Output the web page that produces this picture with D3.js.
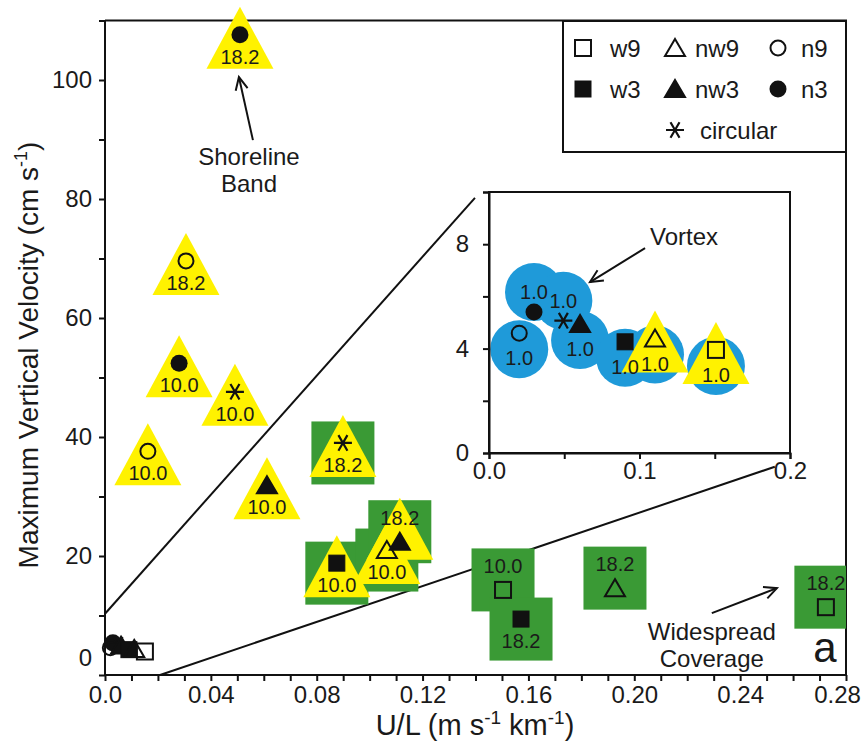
<!DOCTYPE html>
<html>
<head>
<meta charset="utf-8">
<script src="https://cdn.jsdelivr.net/npm/d3@7"></script>
<style>
  body { margin: 0; background: #fff; }
  svg { display: block; font-family: "Liberation Sans", Arial, sans-serif; }
  text { fill: #1a1a1a; }
</style>
</head>
<body>
<svg id="chart" width="868" height="742"></svg>
<script>
// cases with a background cue (tri = yellow triangle, sq = green square)
var mainPoints = [
  { type: "n3", x: 0.0510, y: 107.6, label: "18.2", bg: ["tri"], pos: "below" },
  { type: "n9", x: 0.0306, y: 69.6, label: "18.2", bg: ["tri"], pos: "below" },
  { type: "n3", x: 0.0280, y: 52.4, label: "10.0", bg: ["tri"], pos: "below" },
  { type: "circular", x: 0.0491, y: 47.6, label: "10.0", bg: ["tri"], pos: "below" },
  { type: "n9", x: 0.0162, y: 37.6, label: "10.0", bg: ["tri"], pos: "below" },
  { type: "nw3", x: 0.0612, y: 31.9, label: "10.0", bg: ["tri"], pos: "below" },
  { type: "circular", x: 0.0899, y: 39.0, label: "18.2", bg: ["sq", "tri"], pos: "below" },
  { type: "w3", x: 0.0876, y: 18.8, label: "10.0", bg: ["sq", "tri"], pos: "below" },
  { type: "nw9", x: 0.1065, y: 21.0, label: "10.0", bg: ["sq", "tri"], pos: "below" },
  { type: "nw3", x: 0.1114, y: 22.4, label: "18.2", bg: ["sq", "tri"], pos: "above" },
  { type: "w9", x: 0.1504, y: 14.3, label: "10.0", bg: ["sq"], pos: "above" },
  { type: "w3", x: 0.1572, y: 9.4, label: "18.2", bg: ["sq"], pos: "below" },
  { type: "nw9", x: 0.1927, y: 14.6, label: "18.2", bg: ["sq"], pos: "above" },
  { type: "w9", x: 0.2724, y: 11.4, label: "18.2", bg: ["sq"], pos: "above" }
];

// 1.0 cases, as read on the inset axes (inset x axis is 10x the main one)
var insetPoints = [
  { type: "n3", x: 0.0299, y: 5.40, label: "1.0", bg: ["circ"], pos: "above" },
  { type: "n9", x: 0.0201, y: 4.59, label: "1.0", bg: ["circ"], pos: "below" },
  { type: "circular", x: 0.0494, y: 5.07, label: "1.0", bg: ["circ"], pos: "above" },
  { type: "nw3", x: 0.0605, y: 4.94, label: "1.0", bg: ["circ"], pos: "below" },
  { type: "w3", x: 0.0904, y: 4.26, label: "1.0", bg: ["circ"], pos: "below" },
  { type: "nw9", x: 0.1103, y: 4.39, label: "1.0", bg: ["circ", "tri"], pos: "below" },
  { type: "w9", x: 0.1508, y: 3.95, label: "1.0", bg: ["circ", "tri"], pos: "below" }
];
var insetScale = 10;

var legendTypes = ["w9", "nw9", "n9", "w3", "nw3", "n3", "circular"];
var legendNames = ["w9", "nw9", "n9", "w3", "nw3", "n3", "circular"];

var xTicks = d3.range(0, 0.2801, 0.01);
var xLabels = [0, 0.04, 0.08, 0.12, 0.16, 0.20, 0.24, 0.28];
var yTicks = d3.range(0, 111, 10);
var yLabels = [0, 20, 40, 60, 80, 100];
var insetXTicks = [0, 0.05, 0.1, 0.15, 0.2];
var insetXLabels = [0, 0.1, 0.2];
var insetYTicks = [0, 2, 4, 6, 8, 10];
var insetYLabels = [0, 4, 8];

// zoom guide lines, main axes units
var guideLines = [
  [[0, 10.3], [0.1398, 80.2]],
  [[0.0208, 0], [0.2531, 35.0]]
];

var notes = [
  { lines: ["Shoreline", "Band"], x: 0.0544, y: 85.7, arrow: [[0.0559, 89.9], [0.0506, 100.5]] },
  { lines: ["Widespread", "Coverage"], x: 0.2293, y: 5.9, arrow: [[0.2293, 10.4], [0.2539, 14.6]] }
];
var insetNote = { text: "Vortex", x: 0.107, y: 7.97, arrow: [[0.1037, 7.85], [0.0671, 6.55]] };

var YELLOW = "#fff200", GREEN = "#3a9a35", BLUE = "#1f9ad9", INK = "#111";

var svg = d3.select("#chart");

var x = d3.scaleLinear().domain([0, 0.28]).range([105, 846]);
var y = d3.scaleLinear().domain([0, 110]).range([675, 20.5]);
var xi = d3.scaleLinear().domain([0, 0.2]).range([489, 790]);
var yi = d3.scaleLinear().domain([0, 10]).range([453, 192]);

function fmt1(v) { return v === 0 ? "0.0" : d3.format(".2f")(v); }

function drawMarker(g, type, cx, cy) {
  var filled = /3$/.test(type);
  var fill = filled ? INK : "none";
  if (type === "w9" || type === "w3") {
    g.append("rect").attr("x", cx - 8).attr("y", cy - 8).attr("width", 16).attr("height", 16)
      .attr("fill", fill).attr("stroke", INK).attr("stroke-width", filled ? 1 : 2);
  } else if (type === "nw9" || type === "nw3") {
    var p = d3.path();
    p.moveTo(cx, cy - 9); p.lineTo(cx + 10, cy + 8); p.lineTo(cx - 10, cy + 8); p.closePath();
    g.append("path").attr("d", p.toString()).attr("fill", fill)
      .attr("stroke", INK).attr("stroke-width", 2).attr("stroke-linejoin", "miter");
  } else if (type === "n9" || type === "n3") {
    g.append("circle").attr("cx", cx).attr("cy", cy).attr("r", filled ? 8.5 : 7.5)
      .attr("fill", fill).attr("stroke", INK).attr("stroke-width", filled ? 0 : 2);
  } else {
    var a = d3.path();
    [0, 60, 120].forEach(function(deg) {
      var r = deg * Math.PI / 180, l = 9;
      a.moveTo(cx - l * Math.cos(r), cy - l * Math.sin(r));
      a.lineTo(cx + l * Math.cos(r), cy + l * Math.sin(r));
    });
    g.append("path").attr("d", a.toString()).attr("stroke", INK).attr("stroke-width", 2.2).attr("fill", "none");
  }
}

function drawArrow(g, p0, p1) {
  g.append("line").attr("x1", p0[0]).attr("y1", p0[1]).attr("x2", p1[0]).attr("y2", p1[1])
    .attr("stroke", INK).attr("stroke-width", 2);
  var ang = Math.atan2(p1[1] - p0[1], p1[0] - p0[0]), L = 14, spread = 0.45;
  var h = d3.path();
  h.moveTo(p1[0] - L * Math.cos(ang - spread), p1[1] - L * Math.sin(ang - spread));
  h.lineTo(p1[0], p1[1]);
  h.lineTo(p1[0] - L * Math.cos(ang + spread), p1[1] - L * Math.sin(ang + spread));
  g.append("path").attr("d", h.toString()).attr("fill", "none").attr("stroke", INK).attr("stroke-width", 2);
}

// draws one layer of cued cases: backgrounds, labels, markers
function drawCases(g, data, sx, sy, off) {
  data.forEach(function(d) {
    if (d.bg.indexOf("sq") < 0) return;
    var cx = sx(d.x), cy = sy(d.y) + (d.pos === "below" ? 10 : -10);
    g.append("rect").attr("x", cx - 31.5).attr("y", cy - 31.5).attr("width", 63).attr("height", 63)
      .attr("fill", GREEN).attr("clip-path", "url(#clipMain)");
  });
  data.forEach(function(d) {
    if (d.bg.indexOf("circ") < 0) return;
    g.append("circle").attr("cx", sx(d.x)).attr("cy", sy(d.y) + (d.pos === "below" ? 16 : -20))
      .attr("r", 29).attr("fill", BLUE);
  });
  data.forEach(function(d) {
    if (d.bg.indexOf("tri") < 0) return;
    var cx = sx(d.x), cy = sy(d.y) + (d.pos === "below" ? 3 : -13);
    var p = d3.path();
    p.moveTo(cx, cy - 31); p.lineTo(cx + 33.5, cy + 31); p.lineTo(cx - 33.5, cy + 31); p.closePath();
    g.append("path").attr("d", p.toString()).attr("fill", YELLOW);
  });
  g.selectAll("text.case").data(data).join("text").attr("class", "case")
    .attr("x", function(d) { return sx(d.x); })
    .attr("y", function(d) { return sy(d.y) + (d.pos === "below" ? off[0] : off[1]); })
    .attr("dy", "0.36em").attr("text-anchor", "middle").attr("font-size", 20)
    .text(function(d) { return d.label; });
  data.forEach(function(d) { drawMarker(g, d.type, sx(d.x), sy(d.y)); });
}

// text with "-1" superscripts, parts alternate normal / superscript
function supText(t, parts, big, small) {
  parts.forEach(function(s, i) {
    var sup = i % 2 === 1;
    t.append("tspan").attr("font-size", sup ? small : big)
      .attr("dy", i === 0 ? 0 : (sup ? -11 : 11)).text(s);
  });
}

svg.append("defs").append("clipPath").attr("id", "clipMain").append("rect")
  .attr("x", 105).attr("y", 0).attr("width", 741).attr("height", 676);
svg.select("defs").append("clipPath").attr("id", "clipInset").append("rect")
  .attr("x", 489).attr("y", 192).attr("width", 301).attr("height", 261);

// main axes
var xAxis = d3.axisBottom(x).tickValues(xTicks).tickSize(6).tickPadding(5)
  .tickFormat(function(v) {
    return xLabels.some(function(l) { return Math.abs(l - v) < 1e-6; }) ? fmt1(v) : "";
  });
var yAxis = d3.axisLeft(y).tickValues(yTicks).tickSize(6).tickPadding(7)
  .tickFormat(function(v) { return yLabels.indexOf(v) >= 0 ? v : ""; });

var gx = svg.append("g").attr("transform", "translate(0,675)").call(xAxis);
var gy = svg.append("g").attr("transform", "translate(105,0)").call(yAxis);
[gx, gy].forEach(function(g) {
  g.selectAll("path, line").attr("stroke", INK).attr("stroke-width", 2);
  g.selectAll("text").attr("font-size", 24).attr("fill", "#1a1a1a")
    .attr("font-family", "'Liberation Sans', Arial, sans-serif");
});
gx.select(".domain").attr("d", "M105,0H846");
gx.selectAll(".tick").filter(function(v) { return Math.abs(v - 0.28) < 1e-6; })
  .select("text").attr("x", -9);
gy.select(".domain").attr("d", "M0,676V20.5");
gy.selectAll(".tick").filter(function(v) { return v === 0; }).select("text").attr("y", -17);

// frame top / right
svg.append("path").attr("d", "M105," + y(110) + "H" + x(0.28) + "V676")
  .attr("fill", "none").attr("stroke", INK).attr("stroke-width", 2);

// axis titles
var xt = svg.append("text").attr("x", 475).attr("y", 735).attr("text-anchor", "middle");
supText(xt, ["U/L (m s", "-1", " km", "-1", ")"], 29, 19);

var yt = svg.append("text").attr("transform", "translate(38,355) rotate(-90)")
  .attr("text-anchor", "middle");
supText(yt, ["Maximum Vertical Velocity (cm s", "-1", ")"], 28, 18);

// guide lines to inset
svg.selectAll("line.guide").data(guideLines).join("line").attr("class", "guide")
  .attr("x1", function(d) { return x(d[0][0]); }).attr("y1", function(d) { return y(d[0][1]); })
  .attr("x2", function(d) { return x(d[1][0]); }).attr("y2", function(d) { return y(d[1][1]); })
  .attr("stroke", INK).attr("stroke-width", 2);

// main cases
var gMain = svg.append("g");
drawCases(gMain, mainPoints, x, y, [22, -24]);

// 1.0 cases at the origin of main axes
var gOrigin = svg.append("g");
insetPoints.forEach(function(d) { drawMarker(gOrigin, d.type, x(d.x / insetScale), y(d.y)); });

// notes
notes.forEach(function(n) {
  var t = svg.append("text").attr("text-anchor", "middle").attr("font-size", 24);
  n.lines.forEach(function(s, i) {
    t.append("tspan").attr("x", x(n.x)).attr("y", y(n.y) + i * 27).text(s);
  });
  drawArrow(svg, [x(n.arrow[0][0]), y(n.arrow[0][1])], [x(n.arrow[1][0]), y(n.arrow[1][1])]);
});
svg.append("text").attr("x", x(0.272)).attr("y", y(2.2)).attr("text-anchor", "middle")
  .attr("font-size", 42).text("a");

// inset
var gIn = svg.append("g");
gIn.append("rect").attr("x", 489).attr("y", 192).attr("width", 301).attr("height", 261).attr("fill", "#fff");
var gInData = gIn.append("g").attr("clip-path", "url(#clipInset)");
drawCases(gInData, insetPoints, xi, yi, [25, -20]);
gIn.append("rect").attr("x", 489).attr("y", 192).attr("width", 301).attr("height", 261)
  .attr("fill", "none").attr("stroke", INK).attr("stroke-width", 2);

var gix = gIn.append("g").attr("transform", "translate(0,453)")
  .call(d3.axisBottom(xi).tickValues(insetXTicks).tickSize(6).tickPadding(3)
    .tickFormat(function(v) {
      return insetXLabels.some(function(l) { return Math.abs(l - v) < 1e-6; }) ? d3.format(".1f")(v) : "";
    }));
var giy = gIn.append("g").attr("transform", "translate(489,0)")
  .call(d3.axisLeft(yi).tickValues(insetYTicks).tickSize(6).tickPadding(14)
    .tickFormat(function(v) { return insetYLabels.indexOf(v) >= 0 ? v : ""; }));
[gix, giy].forEach(function(g) {
  g.selectAll("path, line").attr("stroke", INK).attr("stroke-width", 2);
  g.selectAll("text").attr("font-size", 24).attr("fill", "#1a1a1a")
    .attr("font-family", "'Liberation Sans', Arial, sans-serif");
});

gIn.append("text").attr("x", xi(insetNote.x)).attr("y", yi(insetNote.y)).attr("font-size", 24).text(insetNote.text);
drawArrow(gIn, [xi(insetNote.arrow[0][0]), yi(insetNote.arrow[0][1])], [xi(insetNote.arrow[1][0]), yi(insetNote.arrow[1][1])]);

// legend
var gLeg = svg.append("g");
gLeg.append("rect").attr("x", 563).attr("y", 21).attr("width", 283).attr("height", 131)
  .attr("fill", "#fff").attr("stroke", INK).attr("stroke-width", 2);
var colMark = [583, 675, 778], colText = [610, 695, 801], rowY = [48, 89, 130];
legendTypes.forEach(function(t, i) {
  var col = i < 6 ? i % 3 : 1, row = i < 6 ? Math.floor(i / 3) : 2;
  drawMarker(gLeg, t, colMark[col], rowY[row]);
  gLeg.append("text").attr("x", i < 6 ? colText[col] : 700).attr("y", rowY[row]).attr("dy", "0.36em")
    .attr("font-size", 24).text(legendNames[i]);
});
</script>
</body>
</html>
